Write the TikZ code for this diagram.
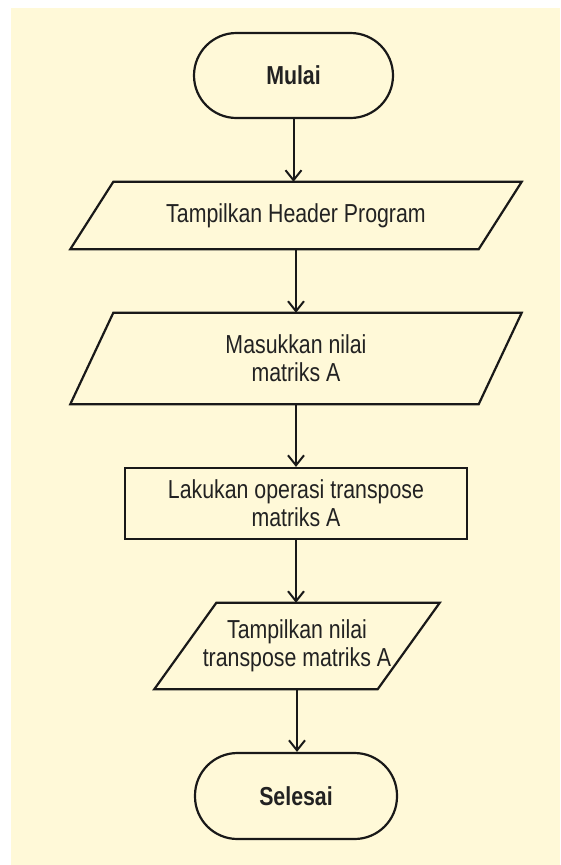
\documentclass[tikz,border=0pt]{standalone}
\usepackage{fontspec}
\setmainfont{Liberation Sans}[FakeStretch=0.82]
\usetikzlibrary{arrows.meta}
\definecolor{paper}{RGB}{255,249,216}
\definecolor{ink}{RGB}{25,25,25}
\definecolor{txt}{RGB}{34,34,34}

\begin{document}
\begin{tikzpicture}[x=1pt,y=-1pt,
  every node/.style={font=\fontsize{26}{28}\selectfont, text=txt, align=center, inner sep=0pt},
  term/.style={draw=ink, line width=2.2pt, rounded corners=42.5pt,
               font=\fontsize{26}{28}\selectfont\bfseries},
  proc/.style={draw=ink, line width=2.2pt},
  io/.style={},
  outline/.style={draw=ink, line width=2.2pt, line join=miter},
  arr/.style={draw=ink, line width=2pt, -{Straight Barb[length=10pt,width=16pt]}}
]
% page and background panel
\useasboundingbox (0,0) rectangle (560,865);
\fill[white] (0,0) rectangle (560,865);
\fill[paper] (11,8) rectangle (560,865);

% start
\node[term, minimum width=199pt, minimum height=85pt] (mulai) at (293.5,75.5) {Mulai};

% output: header
\node[io, minimum width=408pt, minimum height=67pt] (header) at (296,215.5) {Tampilkan Header Program};
\draw[outline] ([xshift=21.5pt]header.north west) -- ([xshift=21.5pt]header.north east)
  -- ([xshift=-21.5pt]header.south east) -- ([xshift=-21.5pt]header.south west) -- cycle;

% input: matrix A
\node[io, minimum width=408pt, minimum height=91pt] (input) at (296,358.5) {Masukkan nilai\\matriks A};
\draw[outline] ([xshift=21.5pt]input.north west) -- ([xshift=21.5pt]input.north east)
  -- ([xshift=-21.5pt]input.south east) -- ([xshift=-21.5pt]input.south west) -- cycle;

% process: transpose
\node[proc, minimum width=342pt, minimum height=71pt] (op) at (296,503.5) {Lakukan operasi transpose\\matriks A};

% output: transposed matrix
\node[io, minimum width=223pt, minimum height=86pt] (result) at (297,646) {Tampilkan nilai\\transpose matriks A};
\draw[outline] ([xshift=31pt]result.north west) -- ([xshift=31pt]result.north east)
  -- ([xshift=-31pt]result.south east) -- ([xshift=-31pt]result.south west) -- cycle;

% end
\node[term, minimum width=202pt, minimum height=86pt] (selesai) at (296,796) {Selesai};

% flow
\draw[arr] (mulai.south) -- (mulai.south |- header.north);
\draw[arr] (header.south) -- (header.south |- input.north);
\draw[arr] (input.south) -- (input.south |- op.north);
\draw[arr] (op.south) -- (op.south |- result.north);
\draw[arr] (result.south) -- (result.south |- selesai.north);
\end{tikzpicture}
\end{document}
